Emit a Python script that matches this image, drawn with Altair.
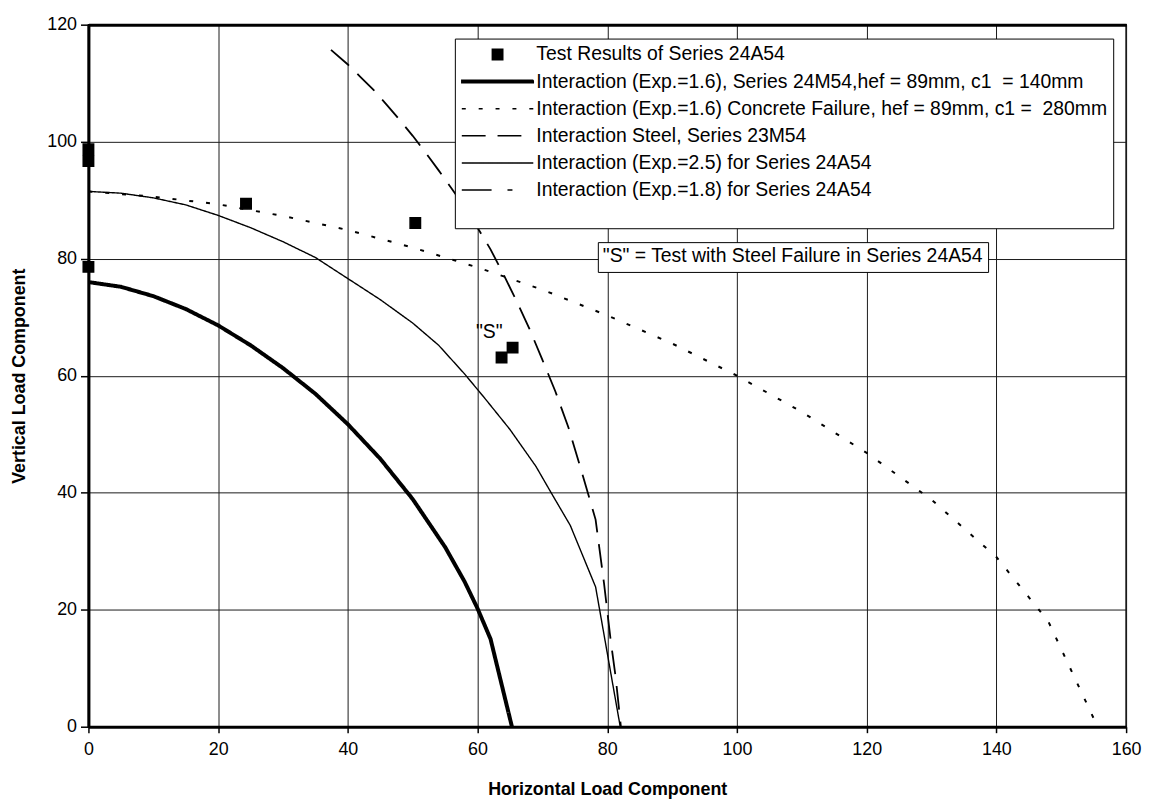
import altair as alt
import pandas as pd

FONT = "Liberation Sans"

SERIES = [
    "Test Results of Series 24A54",
    "Interaction (Exp.=1.6), Series 24M54,hef = 89mm, c1 \u00a0= 140mm",
    "Interaction (Exp.=1.6) Concrete Failure, hef = 89mm, c1 = \u00a0280mm",
    "Interaction Steel, Series 23M54",
    "Interaction (Exp.=2.5) for Series 24A54",
    "Interaction (Exp.=1.8) for Series 24A54",
]
NOTE = '"S" = Test with Steel Failure in Series 24A54'

# test results (squares)
test_x = [0, 0, 0, 24.3, 50.4, 63.7, 65.4]
test_y = [98.7, 96.7, 78.6, 89.4, 86.1, 63.1, 64.8]

# Interaction (Exp.=1.6), Series 24M54 (thick)
m54_x = [0, 5, 10, 15, 20, 25, 30, 35, 40, 45, 50, 55, 58, 60, 62, 65.3]
m54_y = [76, 75.2, 73.6, 71.4, 68.6, 65.2, 61.3, 56.9, 51.7, 45.8, 38.9, 30.7, 24.8, 20.2, 15, 0]

# Interaction (Exp.=1.6) Concrete Failure (dotted)
conc_x = [0, 10, 20, 30, 40, 50, 60, 70, 80, 90, 100, 110, 120, 130, 140, 148, 155.6]
conc_y = [91.5, 90.6, 89.3, 87.3, 84.9, 81.9, 78.5, 74.7, 70.3, 65.5, 60.0, 53.8, 46.8, 38.8, 29.0, 18.0, 0]

# Interaction Steel, Series 23M54 (long dashes)
steel_x = [37.4, 40, 42, 44, 46, 48, 50, 52, 54, 56, 58, 60, 62, 64, 66, 68, 70, 72, 74, 76,
           78.2, 79.5, 80.5, 81.3, 82.1]
steel_y = [115.7, 113.2, 111.0, 108.8, 106.3, 103.7, 101, 98.1, 95.1, 92, 88.8, 85.3, 81.6, 77.3,
           72.8, 68.0, 62.7, 57.3, 51.2, 43.8, 35.4, 24.5, 15, 8.4, 0]

# Interaction (Exp.=2.5) for Series 24A54 (thin solid)
a25_x = [0, 5, 10, 15, 20, 25, 30, 35, 40, 45, 50, 54, 58, 61, 65, 69, 71.5, 74.3, 78.2, 82]
a25_y = [91.5, 91.2, 90.4, 89.2, 87.4, 85.3, 82.9, 80.2, 76.6, 73.0, 69.0, 65.2, 60.3, 56.3,
         50.8, 44.5, 39.7, 34.4, 23.9, 0]

# "S" marker label
s_x = [61.8]
s_y = [67.5]
s_text = ['"S"']

# symbol shapes (custom paths in a -1..1 box, drawn at size 72x72 px)
SQUARE = "M-0.146,-0.146H0.146V0.146H-0.146Z"
THICK = "M-1,-0.035H1V0.035H-1Z"
SHAPES = [SQUARE, THICK, "stroke", "stroke", "stroke", "stroke"]
DASHES = [[1, 0], [1, 0], [4, 13], [24, 12], [1, 0], [30, 16, 5, 21]]
LINE_WIDTHS = [1.5, 4, 2, 1.8, 1.4, 1.4]

pts = pd.DataFrame({"x": test_x, "y": test_y, "series": SERIES[0]})

rows = []
for k, xs, ys in [(1, m54_x, m54_y), (2, conc_x, conc_y), (3, steel_x, steel_y), (4, a25_x, a25_y)]:
    for i, (xv, yv) in enumerate(zip(xs, ys)):
        rows.append({"x": xv, "y": yv, "series": SERIES[k], "idx": i,
                     "sw": LINE_WIDTHS[k], "dash": DASHES[k]})
lines = pd.DataFrame(rows)

sdf = pd.DataFrame({"x": s_x, "y": s_y, "label": s_text, "note": NOTE})

LEG = alt.Legend(
    orient="none", legendX=369, legendY=14, title=" ", titleOrient="bottom",
    titleFontSize=14, titlePadding=8,
    padding=6, labelOffset=2, clipHeight=20, rowPadding=7.3,
    labelFontSize=19.5, labelFont=FONT, labelLimit=0, labelColor="black",
    strokeColor="black", fillColor="white", symbolSize=5184, symbolStrokeWidth=1.5,
    symbolStrokeColor="black", symbolFillColor="black", symbolOpacity=1,
)

xscale = alt.Scale(domain=[0, 160], nice=False, zero=False)
yscale = alt.Scale(domain=[0, 120], nice=False, zero=False)

XAX = alt.Axis(values=list(range(0, 161, 20)), grid=True, title="Horizontal Load Component",
               domainWidth=3, tickSize=6, tickWidth=1.5, labelPadding=8, labelFontSize=18,
               titleFontSize=18, titleFontWeight="bold", titlePadding=22, labelFlush=False)
XTOP = alt.Axis(orient="top", labels=False, ticks=False, grid=False, title=None, domainWidth=3)
YAX = alt.Axis(values=list(range(0, 121, 20)), grid=True, title="Vertical Load Component",
               domainWidth=3, tickSize=8, tickWidth=1.5, labelPadding=4, labelFontSize=18,
               titleFontSize=18, titleFontWeight="bold", titlePadding=18, labelFlush=False)

line_layer = alt.Chart(lines).mark_line(color="black", strokeCap="butt").encode(
    x=alt.X("x:Q", scale=xscale, axis=XAX),
    y=alt.Y("y:Q", scale=yscale, axis=YAX),
    order=alt.Order("idx:Q"),
    detail="series:N",
    strokeDash=alt.StrokeDash(field="dash", type="nominal", scale=None),
    strokeWidth=alt.StrokeWidth("sw:Q", scale=None),
)

point_layer = alt.Chart(pts).mark_point(
    filled=True, color="black", stroke="black", strokeWidth=1.5, opacity=1, size=5184
).encode(
    x=alt.X("x:Q", scale=xscale, axis=XTOP),
    y=alt.Y("y:Q", scale=yscale, axis=YAX),
    shape=alt.Shape("series:N", scale=alt.Scale(domain=SERIES, range=SHAPES), legend=LEG),
    strokeDash=alt.StrokeDash("series:N", scale=alt.Scale(domain=SERIES, range=DASHES), legend=LEG),
)

text_layer = alt.Chart(sdf).mark_text(font=FONT, fontSize=19.5).encode(
    x=alt.X("x:Q", scale=xscale, axis=None),
    y=alt.Y("y:Q", scale=yscale, axis=YAX),
    text="label:N",
    color=alt.Color("note:N", scale=alt.Scale(range=["black"]), legend=alt.Legend(
        orient="none", legendX=513, legendY=219, title=NOTE, titleFontSize=19.5,
        titleFontWeight="normal", titleFont=FONT, titleColor="black", titlePadding=0,
        titleLimit=0, padding=5,
        symbolSize=0, symbolStrokeWidth=0, symbolOpacity=0, labelFontSize=1,
        labelExpr="''", labelOffset=0,
        strokeColor="black", fillColor="white")),
)

chart = alt.layer(line_layer, point_layer, text_layer).resolve_axis(
    x="independent"
).properties(
    width=1045, height=707,
    autosize=alt.AutoSizeParams(type="none"),
    padding={"left": 81, "top": 14, "right": 16, "bottom": 70},
).configure_view(stroke="black", strokeWidth=1.5).configure_axis(
    gridColor="#1a1a1a", gridWidth=1, gridOpacity=1, domainColor="black", tickColor="black",
    labelColor="black", titleColor="black", labelFont=FONT, titleFont=FONT,
)

chart.save("out.html", embed_options={"renderer": "svg", "actions": False})
